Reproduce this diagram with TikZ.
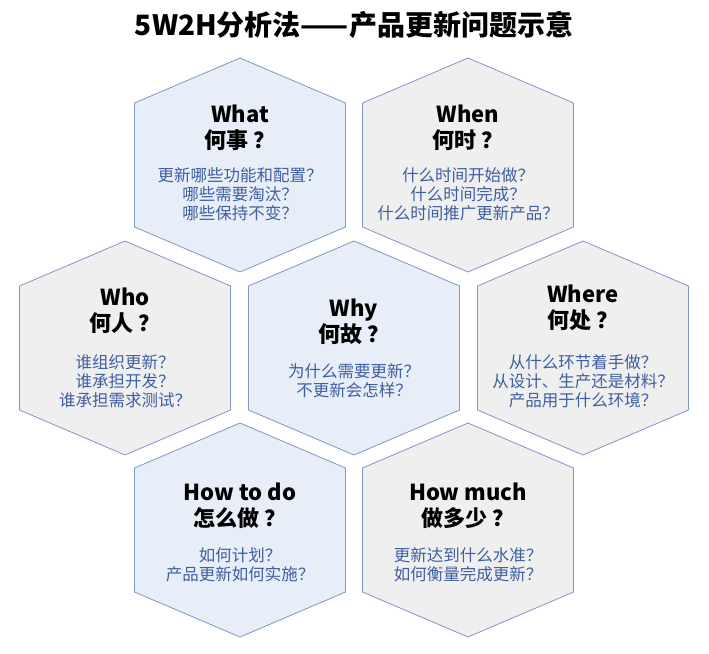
\documentclass[tikz,border=0pt]{standalone}
\usepackage{fontspec}
\setmainfont{Noto Sans CJK SC}
\definecolor{hexblue}{HTML}{E8EEF8}
\definecolor{hexgray}{HTML}{EFEFEF}
\definecolor{hexline}{HTML}{7F96C8}
\definecolor{bodyblue}{HTML}{3F5FA0}
\tikzset{
  head/.style={font=\fontsize{22}{26}\selectfont\bfseries, align=center, text=black},
  body/.style={font=\fontsize{16.5}{19}\selectfont, align=center, text=bodyblue},
}
\newcommand{\hexcell}[3]{%
  \filldraw[fill=#1, draw=hexline, line width=0.8pt]
    (#2,#3-107) -- (#2+105.5,#3-62) -- (#2+105.5,#3+62) -- (#2,#3+107)
    -- (#2-105.5,#3+62) -- (#2-105.5,#3-62) -- cycle;}
\begin{document}
\begin{tikzpicture}[x=1pt,y=-1pt]
  \useasboundingbox (0,0) rectangle (709,653);
  \node (title) at (354,25) {\fontsize{28}{30}\selectfont\bfseries 5W2H分析法——产品更新问题示意};
  \hexcell{hexblue}{240}{165}
  \hexcell{hexgray}{468}{165}
  \hexcell{hexgray}{125}{348}
  \hexcell{hexblue}{354}{348}
  \hexcell{hexgray}{583}{348}
  \hexcell{hexblue}{240}{530}
  \hexcell{hexgray}{468}{530}
  % headings
  \node[head] (what) at (240,128) {What\\何事 ？};
  \node[head] (when) at (468,128) {When\\何时 ？};
  \node[head] (who) at (125,311) {Who\\何人 ？};
  \node[head] (why) at (354,322) {Why\\何故 ？};
  \node[head] (where) at (583,308) {Where\\何处 ？};
  \node[head] (howdo) at (240,506) {How to do\\怎么做 ？};
  \node[head] (howmuch) at (468,506) {How much\\做多少 ？};
  % questions
  \node[body] (whatq) at (240,194) {更新哪些功能和配置？\\哪些需要淘汰？\\哪些保持不变？};
  \node[body] (whenq) at (468,194) {什么时间开始做？\\什么时间完成？\\什么时间推广更新产品？};
  \node[body] (whoq) at (125,381) {谁组织更新？\\谁承担开发？\\谁承担需求测试？};
  \node[body] (whyq) at (354,381) {为什么需要更新？\\不更新会怎样？};
  \node[body] (whereq) at (583,381) {从什么环节着手做？\\从设计、生产还是材料？\\产品用于什么环境？};
  \node[body] (howdoq) at (240,565) {如何计划？\\产品更新如何实施？};
  \node[body] (howmuchq) at (468,565) {更新达到什么水准？\\如何衡量完成更新？};
\end{tikzpicture}
\end{document}
